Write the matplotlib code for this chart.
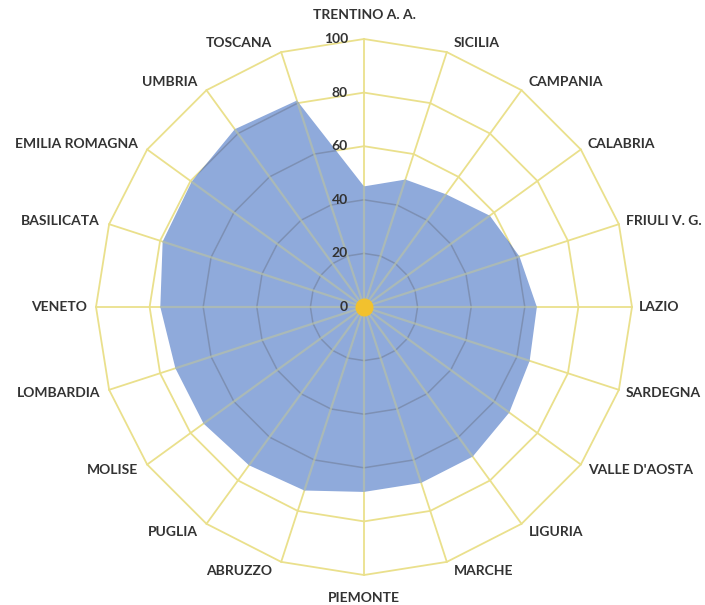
import numpy as np
import matplotlib
matplotlib.use("Agg")
import matplotlib.pyplot as plt

# regioni in senso orario partendo dall'alto
regioni = ["TRENTINO A. A.", "SICILIA", "CAMPANIA", "CALABRIA", "FRIULI V. G.",
           "LAZIO", "SARDEGNA", "VALLE D'AOSTA", "LIGURIA", "MARCHE",
           "PIEMONTE", "ABRUZZO", "PUGLIA", "MOLISE", "LOMBARDIA",
           "VENETO", "BASILICATA", "EMILIA ROMAGNA", "UMBRIA", "TOSCANA"]
valori = [45, 50, 52, 58, 61, 64.5, 65, 67, 69, 69,
          69, 72, 73, 74, 74, 76, 79, 79.5, 82, 81]
livelli = [0, 20, 40, 60, 80, 100]

giallo = "#EAE08C"
blu = "#8FAADB"
testo = "#333333"
font = ["Lato", "DejaVu Sans"]

n = len(regioni)
ang = np.arange(n) * 2 * np.pi / n  # da nord, senso orario
sx, sy = np.sin(ang), np.cos(ang)

fig = plt.figure(figsize=(7.05, 6.05), dpi=100)
ax = fig.add_axes([0, 0, 1, 1])
# centro a (364, 307) px, 2.68 px per unita'
s = 2.68
ax.set_xlim(-364 / s, (705 - 364) / s)
ax.set_ylim(-(605 - 307) / s, 307 / s)
ax.set_aspect("equal")
ax.axis("off")

# griglia gialla
for lv in livelli[1:]:
    ax.plot(np.append(sx, sx[0]) * lv, np.append(sy, sy[0]) * lv,
            color=giallo, lw=1.3, zorder=1)
for i in range(n):
    ax.plot([0, sx[i] * 100], [0, sy[i] * 100], color=giallo, lw=1.3, zorder=1)

# area dati
v = np.array(valori)
poly = ax.fill(v * sx, v * sy, color=blu, zorder=2, lw=0)[0]

# griglia vista attraverso l'area
for lv in livelli[1:]:
    ln, = ax.plot(np.append(sx, sx[0]) * lv, np.append(sy, sy[0]) * lv,
                  color="#7D90B4", lw=1.1, zorder=3)
    ln.set_clip_path(poly)
for i in range(n):
    ln, = ax.plot([0, sx[i] * 100], [0, sy[i] * 100], color="#B6C0A8",
                  lw=1.6, alpha=0.7, zorder=3)
    ln.set_clip_path(poly)

ax.plot([0], [0], "o", color="#F2C12E", ms=13, mec="none", zorder=4)

# etichette dei valori sull'asse verticale
for lv in livelli:
    ax.annotate(str(lv), (0, lv), xytext=(-16, 0), textcoords="offset pixels",
                ha="right", va="center", fontsize=10, fontweight="bold",
                color=testo, family=font, zorder=5)

# nomi delle regioni
for i, nome in enumerate(regioni):
    x, y = sx[i] * 100, sy[i] * 100
    if abs(sx[i]) < 1e-6:
        ha = "center"
        dx = 0
        dy = 24 if sy[i] > 0 else -23
    else:
        ha = "left" if sx[i] > 0 else "right"
        dx = 7 if sx[i] > 0 else -9
        dy = 10 * sy[i]
    ax.annotate(nome, (x, y), xytext=(dx, dy), textcoords="offset pixels",
                ha=ha, va="center", fontsize=10, fontweight="bold",
                color=testo, family=font)

fig.savefig("out.png", dpi=100, facecolor="white")
